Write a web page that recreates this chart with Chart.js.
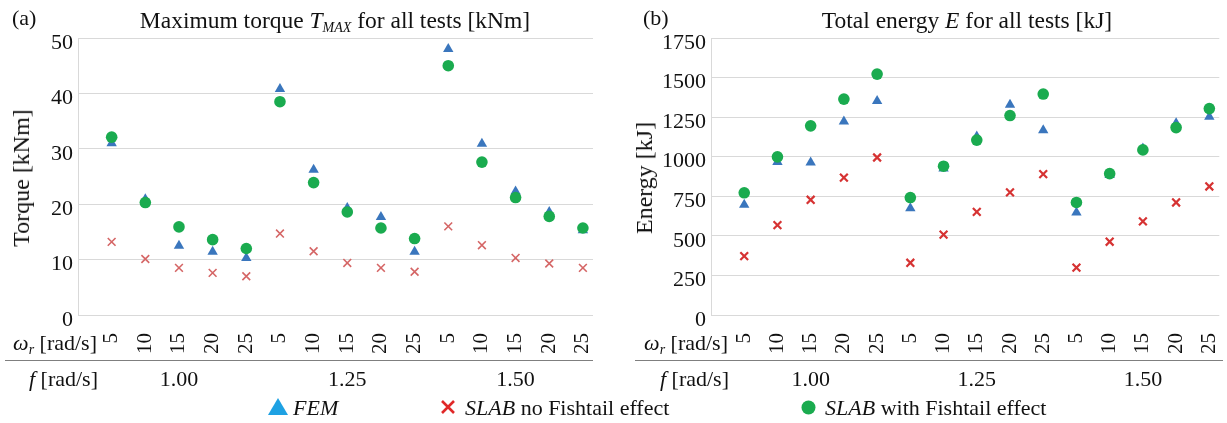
<!DOCTYPE html>
<html>
<head>
<meta charset="utf-8">
<script src="https://cdn.jsdelivr.net/npm/chart.js@4.4.1/dist/chart.umd.min.js"></script>
<style>
  body { margin: 0; width: 1227px; height: 423px; overflow: hidden; background: #fff;
         font-family: 'Liberation Serif', 'Times New Roman', serif; color: #111; }
  canvas { position: absolute; top: 0; }
  .t { position: absolute; white-space: nowrap; line-height: 1; font-size: 22px; }
  .title { font-size: 23.5px; }
  .sep { position: absolute; height: 0; border-top: 1.5px solid #7f7f7f; }
  .ytitle { font-size: 24px; transform: translate(-50%, -50%) rotate(-90deg); }
  sub { font-size: 14px; vertical-align: -4px; }
  .ico { position: absolute; }
</style>
</head>
<body>
<canvas id="torque" width="610" height="423" style="left:0"></canvas>
<canvas id="energy" width="617" height="423" style="left:610px"></canvas>

<!-- panel letters and titles -->
<div class="t" style="left:12px;top:7px">(a)</div>
<div class="t title" style="left:335px;top:9px;transform:translateX(-50%)">Maximum torque <i>T</i><sub><i>MAX</i></sub> for all tests [kNm]</div>
<div class="t" style="left:643px;top:7px">(b)</div>
<div class="t title" style="left:967px;top:9px;transform:translateX(-50%)">Total energy <i>E</i> for all tests [kJ]</div>
<div class="t ytitle" style="left:21px;top:178px">Torque [kNm]</div>
<div class="t ytitle" style="left:644px;top:178px">Energy [kJ]</div>

<!-- axis row captions -->
<div class="t" style="right:1130px;top:332px"><i>ω<sub>r</sub></i> [rad/s]</div>
<div class="t" style="right:1129px;top:368px"><i>f</i> [rad/s]</div>
<div class="sep" style="left:5px;width:588px;top:360px"></div>
<div class="t" style="right:499px;top:332px"><i>ω<sub>r</sub></i> [rad/s]</div>
<div class="t" style="right:498px;top:368px"><i>f</i> [rad/s]</div>
<div class="sep" style="left:635px;width:588px;top:360px"></div>

<!-- legend -->
<svg class="ico" style="left:268px;top:398px" width="20" height="17"><polygon points="10,0 20,17 0,17" fill="#1ea1e3"/></svg>
<div class="t" style="left:293px;top:397px"><i>FEM</i></div>
<svg class="ico" style="left:440px;top:399px" width="16" height="16"><path d="M2 2 L14 14 M14 2 L2 14" stroke="#e02828" stroke-width="2.6"/></svg>
<div class="t" style="left:465px;top:397px"><i>SLAB</i> no Fishtail effect</div>
<svg class="ico" style="left:801px;top:400px" width="15" height="15"><circle cx="7.5" cy="7.5" r="7" fill="#1aab4f"/></svg>
<div class="t" style="left:825px;top:397px"><i>SLAB</i> with Fishtail effect</div>

<script>
// x categories: rotor speed ω_r repeated for each frequency f
var omegaLabels = ['5', '10', '15', '20', '25', '5', '10', '15', '20', '25', '5', '10', '15', '20', '25'];
var freqLabels = ['1.00', '1.25', '1.50'];
var freqCenters = [2, 7, 12];

// (a) maximum torque [kNm]
var torqueFem = [31, 20.9, 12.5, 11.4, 10.3, 40.8, 26.2, 19.3, 17.7, 11.4, 48, 30.9, 22.3, 18.6, 15.3];
var torqueSlabNoFish = [13.2, 10.1, 8.5, 7.6, 7.0, 14.7, 11.5, 9.4, 8.5, 7.8, 16.0, 12.6, 10.3, 9.3, 8.5];
var torqueSlabFish = [32.1, 20.3, 15.9, 13.6, 12.0, 38.5, 23.9, 18.6, 15.7, 13.8, 45.0, 27.6, 21.2, 17.8, 15.7];
var torqueTicks = [0, 10, 20, 30, 40, 50];

// (b) total energy [kJ]
var energyFem = [696, 967, 963, 1222, 1352, 675, 925, 1128, 1328, 1167, 648, 885, 1052, 1212, 1252];
var energySlabNoFish = [372, 568, 728, 868, 995, 330, 508, 652, 775, 890, 299, 463, 592, 711, 812];
var energySlabFish = [772, 999, 1195, 1364, 1522, 742, 940, 1105, 1260, 1396, 711, 893, 1043, 1184, 1304];
var energyTicks = [0, 250, 500, 750, 1000, 1250, 1500, 1750];

var serif = "'Liberation Serif', 'Times New Roman', serif";

function toPoints(values) {
    return values.map(function(v, i) { return {x: i, y: v}; });
}

// drop the extra side padding Chart.js reserves for rotated labels
function fixXAxis(height) {
    return function(scale) {
        scale.height = height;
        scale.paddingLeft = 0;
        scale.paddingRight = 0;
    };
}

function makeChart(id, opts) {
    var ctx = document.getElementById(id).getContext('2d');
    return new Chart(ctx, {
        type: 'scatter',
        data: {
            datasets: [
                {label: 'SLAB with Fishtail effect', data: toPoints(opts.fish), order: 0,
                 pointStyle: 'circle', pointRadius: 5.8, backgroundColor: '#1aab4f', borderColor: '#1aab4f', borderWidth: 0},
                {label: 'SLAB no Fishtail effect', data: toPoints(opts.noFish), order: 1,
                 pointStyle: 'crossRot', pointRadius: 5.5, borderColor: opts.crossColor, borderWidth: opts.crossWidth},
                {label: 'FEM', data: toPoints(opts.fem), order: 2,
                 pointStyle: 'triangle', pointRadius: 6, backgroundColor: '#3a76bd', borderColor: '#3a76bd', borderWidth: 0}
            ]
        },
        options: {
            responsive: false,
            animation: false,
            events: [],
            layout: {padding: {left: 0, right: opts.padRight, top: 38, bottom: 31}},
            plugins: {legend: {display: false}, tooltip: {enabled: false}, title: {display: false}},
            scales: {
                x: {
                    type: 'linear', position: 'bottom', min: -1, max: 14.3,
                    afterBuildTicks: function(scale) {
                        scale.ticks = omegaLabels.map(function(l, i) { return {value: i}; });
                    },
                    afterFit: fixXAxis(47),
                    grid: {display: false, drawTicks: false},
                    border: {display: false},
                    ticks: {
                        autoSkip: false, minRotation: 90, maxRotation: 90, padding: 18,
                        color: '#111', font: {family: serif, size: 21},
                        callback: function(v) { return omegaLabels[v]; }
                    }
                },
                x2: {
                    type: 'linear', position: 'bottom', min: -1, max: 14.3,
                    afterBuildTicks: function(scale) {
                        scale.ticks = freqCenters.map(function(c) { return {value: c}; });
                    },
                    afterFit: fixXAxis(30),
                    grid: {display: false, drawTicks: false},
                    border: {display: false},
                    ticks: {
                        autoSkip: false, maxRotation: 0, padding: 5,
                        color: '#111', font: {family: serif, size: 22},
                        callback: function(v) { return freqLabels[freqCenters.indexOf(v)]; }
                    }
                },
                y: {
                    type: 'linear', min: 0, max: opts.ticks[opts.ticks.length - 1],
                    afterBuildTicks: function(scale) {
                        scale.ticks = opts.ticks.map(function(t) { return {value: t}; });
                    },
                    afterFit: function(scale) { scale.width = opts.yWidth; },
                    grid: {color: '#d9d9d9', lineWidth: 1, drawTicks: false},
                    border: {display: true, color: '#d9d9d9'},
                    ticks: {
                        padding: 5, labelOffset: 5,
                        color: '#111', font: {family: serif, size: 22},
                        callback: function(v) { return String(v); }
                    }
                }
            }
        }
    });
}

makeChart('torque', {
    fem: torqueFem, noFish: torqueSlabNoFish, fish: torqueSlabFish, ticks: torqueTicks,
    crossColor: '#d56666', crossWidth: 1.6, yWidth: 78, padRight: 17
});
makeChart('energy', {
    fem: energyFem, noFish: energySlabNoFish, fish: energySlabFish, ticks: energyTicks,
    crossColor: '#d63333', crossWidth: 2.2, yWidth: 101, padRight: 4
});
</script>
</body>
</html>
